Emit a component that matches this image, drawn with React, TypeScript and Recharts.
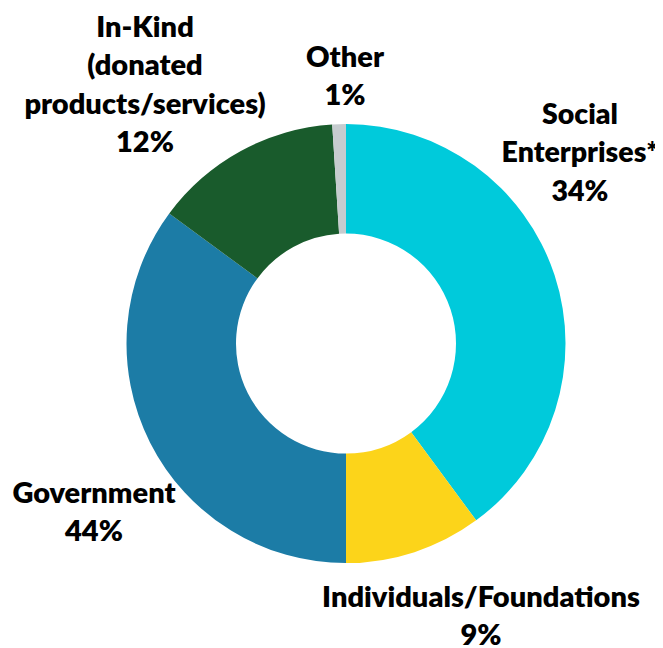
import React from "react";
import { PieChart, Pie, Cell } from "recharts";

// Slice shares as drawn (arc angles)
const categories = ["Social Enterprises", "Individuals/Foundations", "Government", "In-Kind", "Other"];
const sliceValues = [39.9, 10.1, 35.1, 13.9, 1.0];
// Printed percentage labels
const percentLabels = ["34%", "9%", "44%", "12%", "1%"];
// Label text lines (name part)
const labelLines = [
  ["Social", "Enterprises*"],
  ["Individuals/Foundations"],
  ["Government"],
  ["In-Kind", "(donated", "products/services)"],
  ["Other"],
];

const COLORS = ["#00CADB", "#FCD41A", "#1C7CA6", "#195B2C", "#C6CCCF"];

// label anchor offsets relative to pie centre (first baseline)
const LABEL_OFFSETS = [
  { dx: 234, dy: -220, size: 28.5 },
  { dx: 135, dy: 263, size: 29 },
  { dx: -252, dy: 159, size: 29 },
  { dx: -201, dy: -307, size: 29 },
  { dx: -1, dy: -277, size: 29 },
];
const LINE_H = 38.5;

const data = categories.map((name, i) => ({ name, value: sliceValues[i] }));

const renderLabel = (props: any) => {
  const { cx, cy, index } = props;
  const off = LABEL_OFFSETS[index];
  const lines = [...labelLines[index], percentLabels[index]];
  const x = cx + off.dx;
  const y = cy + off.dy;
  return (
    <text
      key={`lbl-${index}`}
      x={x}
      y={y}
      textAnchor="middle"
      fill="#000"
      style={{ fontFamily: "Lato, sans-serif", fontWeight: 800, fontSize: off.size }}
    >
      {lines.map((l, j) => (
        <tspan key={j} x={x} y={y + j * LINE_H}>
          {l}
        </tspan>
      ))}
    </text>
  );
};

export default function App() {
  return (
    <div style={{ width: 655, height: 640 }}>
      <PieChart width={655} height={640} margin={{ top: 0, right: 0, bottom: 0, left: 0 }}>
        <Pie
          data={data}
          dataKey="value"
          nameKey="name"
          cx={338}
          cy={335.6}
          innerRadius={110}
          outerRadius={219.5}
          startAngle={90}
          endAngle={-270}
          stroke="none"
          isAnimationActive={false}
          label={renderLabel}
          labelLine={false}
        >
          {data.map((d, i) => (
            <Cell key={d.name} fill={COLORS[i]} />
          ))}
        </Pie>
      </PieChart>
    </div>
  );
}
